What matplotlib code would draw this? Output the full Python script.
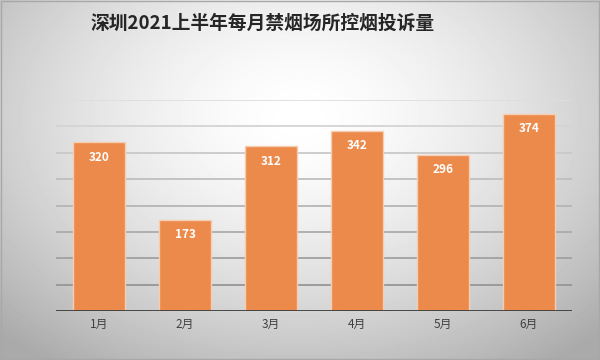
import numpy as np
import matplotlib.pyplot as plt
from matplotlib.patches import Rectangle

plt.rcParams['font.family'] = ['Noto Sans CJK SC', 'DejaVu Sans']

months = ['1月', '2月', '3月', '4月', '5月', '6月']
counts = [320, 173, 312, 342, 296, 374]
title = '深圳2021上半年每月禁烟场所控烟投诉量'

fig = plt.figure(figsize=(6, 3.6), dpi=100)

# radial gray background, light in the upper middle
bg = fig.add_axes([0, 0, 1, 1], zorder=-10)
xx, yy = np.meshgrid(np.linspace(-1, 1, 300), np.linspace(-1, 1, 180))
r = np.sqrt((xx / 1.1) ** 2 + ((yy + 0.35) / 1.3) ** 2)
shade = 1.0 - 0.22 * np.clip(r, 0, 1.3) ** 1.6
bg.imshow(shade, cmap='gray', vmin=0, vmax=1, aspect='auto',
          extent=[0, 1, 0, 1], origin='upper')
bg.set_axis_off()
fig.patches.append(Rectangle((0.001, 0.002), 0.997, 0.995, transform=fig.transFigure,
                             fill=False, edgecolor='#a8a8a8', linewidth=1))

ax = fig.add_axes([0.0933, 0.136, 0.86, 0.586])
ax.set_facecolor('none')

x = np.arange(len(months))
bars = ax.bar(x, counts, width=0.6, color='#EC8A4C', edgecolor='#F6CDB0',
              linewidth=1, zorder=3)

ax.set_ylim(0, 400)
ax.set_xlim(-0.5, len(months) - 0.5)

# gridlines get darker toward the bottom
for v in range(50, 401, 50):
    g = 0.55 + 0.32 * v / 400
    ax.axhline(v, color=(g, g, g), linewidth=1.3, zorder=1)
ax.axhline(0, color='#3a3a3a', linewidth=2, zorder=4)

for b, c in zip(bars, counts):
    ax.annotate(str(c), (b.get_x() + b.get_width() / 2, c), xytext=(0, -15),
                textcoords='offset pixels', ha='center', va='center',
                color='white', fontsize=8.5, fontweight='bold', zorder=5)

ax.set_xticks(x)
ax.set_xticklabels(months, fontsize=8.5, color='#404040')
ax.set_yticks([])
ax.tick_params(axis='x', length=0, pad=5)
for s in ax.spines.values():
    s.set_visible(False)

fig.text(0.437, 0.935, title, ha='center', va='center', fontsize=13.5,
         fontweight='bold', color='#262626')

fig.savefig('out.png', dpi=100)
